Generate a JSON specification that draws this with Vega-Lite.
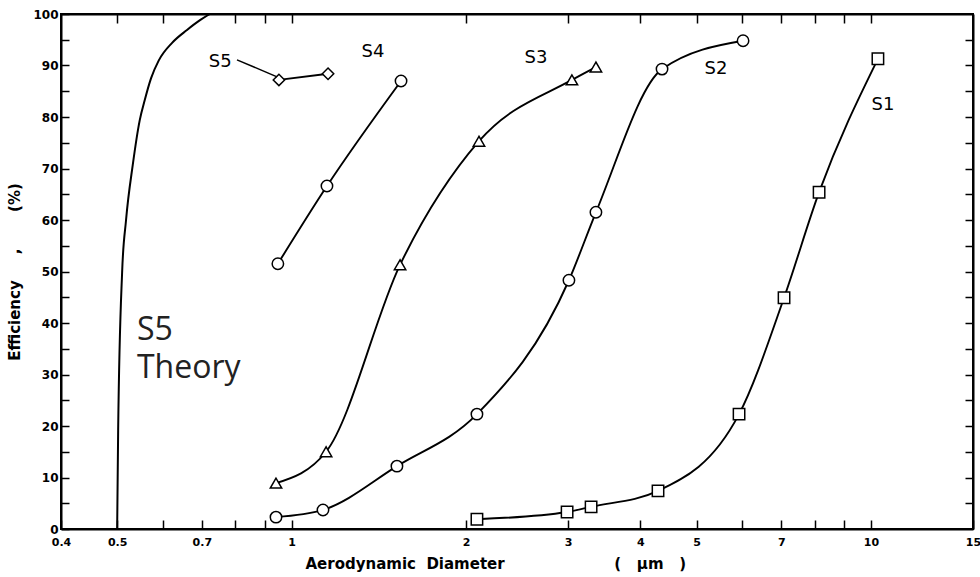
{
  "$schema": "https://vega.github.io/schema/vega-lite/v6.json",
  "width": 912,
  "height": 515,
  "autosize": "none",
  "padding": {"left": 61, "top": 14, "right": 7, "bottom": 48},
  "background": "white",
  "config": {
    "view": {"stroke": "black", "strokeWidth": 2},
    "axis": {
      "grid": false,
      "domainColor": "black",
      "domainWidth": 2,
      "tickColor": "black",
      "tickWidth": 1.5,
      "labelColor": "black",
      "titleColor": "black",
      "labelFont": "DejaVu Sans",
      "titleFont": "DejaVu Sans"
    }
  },
  "datasets": {
    "theory": [
      {"d": 0.500, "eff": 0},
      {"d": 0.502, "eff": 19.2},
      {"d": 0.510, "eff": 49.9},
      {"d": 0.518, "eff": 60},
      {"d": 0.532, "eff": 70.7},
      {"d": 0.547, "eff": 79.4},
      {"d": 0.558, "eff": 83.3},
      {"d": 0.572, "eff": 87.5},
      {"d": 0.590, "eff": 91.0},
      {"d": 0.622, "eff": 94.4},
      {"d": 0.660, "eff": 96.9},
      {"d": 0.695, "eff": 98.8},
      {"d": 0.723, "eff": 100}
    ],
    "series": [
      {"series": "S1", "d": 2.089, "eff": 1.9},
      {"series": "S1", "d": 2.989, "eff": 3.3},
      {"series": "S1", "d": 3.288, "eff": 4.3},
      {"series": "S1", "d": 4.290, "eff": 7.4},
      {"series": "S1", "d": 5.920, "eff": 22.3},
      {"series": "S1", "d": 7.079, "eff": 44.9},
      {"series": "S1", "d": 8.137, "eff": 65.4},
      {"series": "S1", "d": 10.28, "eff": 91.3},
      {"series": "S2", "d": 0.940, "eff": 2.3},
      {"series": "S2", "d": 1.133, "eff": 3.7},
      {"series": "S2", "d": 1.520, "eff": 12.2},
      {"series": "S2", "d": 2.089, "eff": 22.3},
      {"series": "S2", "d": 3.011, "eff": 48.3},
      {"series": "S2", "d": 3.352, "eff": 61.5},
      {"series": "S2", "d": 4.359, "eff": 89.3},
      {"series": "S2", "d": 6.015, "eff": 94.8},
      {"series": "S3", "d": 0.940, "eff": 8.9},
      {"series": "S3", "d": 1.147, "eff": 15.0},
      {"series": "S3", "d": 1.539, "eff": 51.3},
      {"series": "S3", "d": 2.106, "eff": 75.3},
      {"series": "S3", "d": 3.047, "eff": 87.2},
      {"series": "S3", "d": 3.352, "eff": 89.7},
      {"series": "S4", "d": 0.947, "eff": 51.5},
      {"series": "S4", "d": 1.151, "eff": 66.6},
      {"series": "S4", "d": 1.545, "eff": 87.0},
      {"series": "S5", "d": 0.951, "eff": 87.2},
      {"series": "S5", "d": 1.156, "eff": 88.4}
    ],
    "labels": [
      {"label": "S5", "d": 0.753, "eff": 90.7},
      {"label": "S4", "d": 1.382, "eff": 92.6},
      {"label": "S3", "d": 2.642, "eff": 91.5},
      {"label": "S2", "d": 5.401, "eff": 89.3},
      {"label": "S1", "d": 10.49, "eff": 82.3}
    ],
    "leader": [
      {"d": 0.805, "eff": 91.1, "d2": 0.944, "eff2": 87.8}
    ],
    "theoryText": [
      {"t": "S5\nTheory", "d": 0.541, "eff": 38.6}
    ]
  },
  "resolve": {"axis": {"x": "independent", "y": "independent"}},
  "layer": [
    {
      "data": {"name": "theory"},
      "mark": {"type": "line", "interpolate": "monotone", "color": "black", "strokeWidth": 2, "clip": true},
      "encoding": {
        "x": {
          "field": "d", "type": "quantitative",
          "scale": {"type": "log", "domain": [0.4, 15], "nice": false, "zero": false},
          "axis": {
            "orient": "bottom",
            "values": [0.4, 0.5, 0.6, 0.7, 0.8, 0.9, 1, 2, 3, 4, 5, 6, 7, 8, 9, 10, 15],
            "format": "~g",
            "labelExpr": "indexof([0.4, 0.5, 0.7, 1, 2, 3, 4, 5, 7, 10, 15], datum.value) >= 0 ? datum.label : ''",
            "tickSize": -9,
            "labelPadding": 16,
            "labelFontSize": 11,
            "labelFontWeight": "bold",
            "labelFlush": false,
            "labelOverlap": false,
            "title": "Aerodynamic\u00a0\u00a0Diameter\u00a0\u00a0\u00a0\u00a0\u00a0\u00a0\u00a0\u00a0\u00a0\u00a0\u00a0\u00a0\u00a0\u00a0\u00a0\u00a0\u00a0\u00a0\u00a0\u00a0\u00a0(\u00a0\u00a0\u00a0μm\u00a0\u00a0\u00a0)",
            "titleFontSize": 15,
            "titleFontWeight": "bold",
            "titleAnchor": "start",
            "titleAlign": "left",
            "titleX": 244,
            "titlePadding": 9
          }
        },
        "y": {
          "field": "eff", "type": "quantitative",
          "scale": {"domain": [0, 100], "nice": false},
          "axis": {
            "orient": "left",
            "values": [0, 5, 10, 15, 20, 25, 30, 35, 40, 45, 50, 55, 60, 65, 70, 75, 80, 85, 90, 95, 100],
            "labelExpr": "datum.value % 10 == 0 ? datum.label : ''",
            "tickSize": -8,
            "labelPadding": 11,
            "labelFontSize": 12,
            "labelFontWeight": "bold",
            "labelFlush": false,
            "labelOverlap": false,
            "title": "Efficiency\u00a0\u00a0\u00a0\u00a0\u00a0,\u00a0\u00a0\u00a0\u00a0\u00a0\u00a0\u00a0(%)",
            "titleFontSize": 15,
            "titleFontWeight": "bold",
            "titlePadding": 10
          }
        }
      }
    },
    {
      "data": {"name": "series"},
      "mark": {"type": "line", "interpolate": "monotone", "color": "black", "strokeWidth": 1.9},
      "encoding": {
        "x": {"field": "d", "type": "quantitative", "axis": null},
        "y": {"field": "eff", "type": "quantitative", "axis": null},
        "detail": {"field": "series", "type": "nominal"}
      }
    },
    {
      "data": {"name": "series"},
      "mark": {"type": "point", "filled": true, "fill": "white", "stroke": "black", "strokeWidth": 1.5, "opacity": 1, "size": 130},
      "encoding": {
        "x": {"field": "d", "type": "quantitative", "axis": null},
        "y": {"field": "eff", "type": "quantitative", "axis": null},
        "shape": {
          "field": "series", "type": "nominal",
          "scale": {"domain": ["S1", "S2", "S3", "S4", "S5"], "range": ["square", "circle", "triangle-up", "circle", "diamond"]},
          "legend": null
        }
      }
    },
    {
      "data": {"name": "leader"},
      "mark": {"type": "rule", "color": "black", "strokeWidth": 1.5},
      "encoding": {
        "x": {
          "field": "d", "type": "quantitative",
          "axis": {
            "orient": "top",
            "values": [0.5, 0.6, 0.8, 0.9, 1, 2, 3, 4, 5, 6, 7, 8, 9, 10],
            "labels": false,
            "tickSize": -9,
            "title": null
          }
        },
        "x2": {"field": "d2"},
        "y": {
          "field": "eff", "type": "quantitative",
          "axis": {
            "orient": "right",
            "values": [5, 10, 15, 20, 25, 30, 35, 40, 45, 50, 55, 60, 65, 70, 75, 80, 85, 90, 95],
            "labels": false,
            "tickSize": -8,
            "title": null
          }
        },
        "y2": {"field": "eff2"}
      }
    },
    {
      "data": {"name": "labels"},
      "mark": {"type": "text", "font": "DejaVu Sans", "fontSize": 18, "color": "black", "align": "center", "baseline": "middle"},
      "encoding": {
        "x": {"field": "d", "type": "quantitative", "axis": null},
        "y": {"field": "eff", "type": "quantitative", "axis": null},
        "text": {"field": "label"}
      }
    },
    {
      "data": {"name": "theoryText"},
      "mark": {"type": "text", "font": "Open Sans", "fontSize": 32, "color": "#222222", "align": "left", "baseline": "middle", "lineBreak": "\n", "lineHeight": 38},
      "encoding": {
        "x": {"field": "d", "type": "quantitative", "axis": null},
        "y": {"field": "eff", "type": "quantitative", "axis": null},
        "text": {"field": "t"}
      }
    }
  ]
}
